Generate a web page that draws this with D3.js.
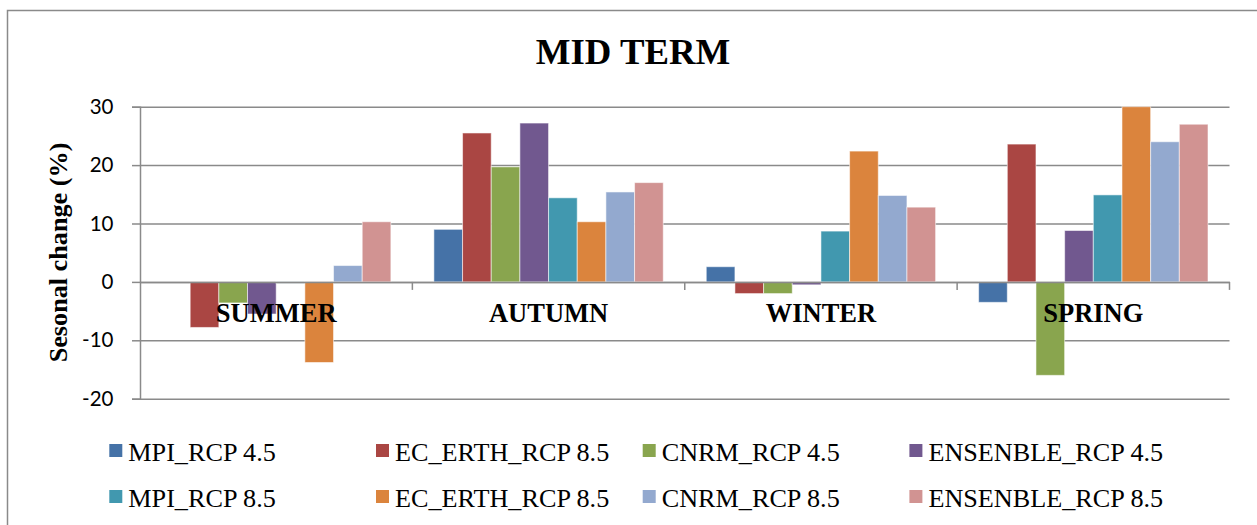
<!DOCTYPE html>
<html>
<head>
<meta charset="utf-8">
<script src="https://cdn.jsdelivr.net/npm/d3@7"></script>
<style>
  html, body { margin: 0; padding: 0; background: #fff; }
  svg { display: block; }
</style>
</head>
<body>
<svg id="chart" width="1257" height="525"></svg>
<script>
// Seasons on the category axis
const seasons = ["SUMMER", "AUTUMN", "WINTER", "SPRING"];

// Model / scenario series
const seriesNames = [
  "MPI_RCP 4.5", "EC_ERTH_RCP 8.5", "CNRM_RCP 4.5", "ENSENBLE_RCP 4.5",
  "MPI_RCP 8.5", "EC_ERTH_RCP 8.5", "CNRM_RCP 8.5", "ENSENBLE_RCP 8.5"
];
const seriesColors = [
  "#4572A7", "#AA4643", "#89A54E", "#71588F",
  "#4198AF", "#DB843D", "#93A9CF", "#D19392"
];

// Seasonal change (%) per series, in season order
const mpi45     = [0.0, 9.0, 2.6, -3.5];
const ecerth45  = [-7.8, 25.5, -2.0, 23.6];
const cnrm45    = [-3.6, 19.7, -2.0, -16.0];
const ens45     = [-5.5, 27.2, -0.5, 8.8];
const mpi85     = [-0.2, 14.4, 8.7, 14.9];
const ecerth85  = [-13.8, 10.3, 22.4, 30.0];
const cnrm85    = [2.8, 15.4, 14.8, 24.0];
const ens85     = [10.3, 17.0, 12.8, 27.0];

const yTicks = [-20, -10, 0, 10, 20, 30];

const seriesValues = [mpi45, ecerth45, cnrm45, ens45, mpi85, ecerth85, cnrm85, ens85];

const svg = d3.select("#chart");
const gridColor = "#8a8a8a";
const serif = "'Liberation Serif', 'Times New Roman', serif";

// Chart frame
svg.append("rect")
  .attr("x", 7.5).attr("y", 10.5)
  .attr("width", 1300).attr("height", 600)
  .attr("fill", "none").attr("stroke", gridColor).attr("stroke-width", 1.5);

const plot = { left: 140, right: 1229.5, top: 106.7, bottom: 398.7 };

const y = d3.scaleLinear().domain([-20, 30]).range([plot.bottom, plot.top]);
const x0 = d3.scaleBand().domain(seasons).range([plot.left, plot.right]).padding(0);
const x1 = d3.scaleBand().domain(d3.range(seriesNames.length))
  .range([0, x0.bandwidth()]).paddingInner(0).paddingOuter(0.75);

// Title
svg.append("text")
  .attr("x", 633).attr("y", 64.3)
  .attr("text-anchor", "middle")
  .attr("font-family", serif)
  .attr("font-weight", "bold").attr("font-size", 36.8)
  .text("MID TERM");

// Horizontal gridlines + value axis
const yAxis = d3.axisLeft(y)
  .tickValues(yTicks)
  .tickSize(8)
  .tickPadding(18.5)
  .tickFormat(d => String(d));

const yg = svg.append("g")
  .attr("transform", `translate(${plot.left},0)`)
  .call(yAxis);
yg.select(".domain").attr("stroke", gridColor).attr("stroke-width", 1.5);
yg.selectAll(".tick line").attr("stroke", gridColor).attr("stroke-width", 1.5);
yg.selectAll(".tick text")
  .attr("font-family", "Lato, 'Open Sans', sans-serif")
  .attr("font-size", 20.5).attr("fill", "#000");
yg.selectAll(".tick").append("line")
  .attr("x1", 0).attr("x2", plot.right - plot.left)
  .attr("stroke", gridColor).attr("stroke-width", 1.5);

// Bars
const groups = svg.append("g").selectAll("g")
  .data(seasons)
  .join("g")
  .attr("transform", d => `translate(${x0(d)},0)`);

groups.selectAll("rect")
  .data((s, i) => seriesValues.map((vals, k) => ({ k, v: vals[i] })))
  .join("rect")
  .attr("x", d => x1(d.k))
  .attr("width", x1.bandwidth())
  .attr("y", d => y(Math.max(0, d.v)))
  .attr("height", d => Math.abs(y(d.v) - y(0)))
  .attr("fill", d => seriesColors[d.k])
  .attr("stroke", "#ffffff").attr("stroke-opacity", 0.55).attr("stroke-width", 1);

// Category axis along zero, with tick marks between seasons
const xAxis = d3.axisBottom(x0).tickSize(0).tickFormat("");
const xg = svg.append("g")
  .attr("transform", `translate(0,${y(0)})`)
  .call(xAxis);
xg.select(".domain").attr("stroke", gridColor).attr("stroke-width", 1.5);
xg.selectAll(".sep")
  .data(seasons)
  .join("line")
  .attr("class", "sep")
  .attr("x1", d => x0(d) + x0.bandwidth()).attr("x2", d => x0(d) + x0.bandwidth())
  .attr("y1", 0).attr("y2", 8)
  .attr("stroke", gridColor).attr("stroke-width", 1.5);

// Season labels
svg.append("g").selectAll("text")
  .data(seasons)
  .join("text")
  .attr("x", d => x0(d) + x0.bandwidth() / 2)
  .attr("y", 321.7)
  .attr("text-anchor", "middle")
  .attr("font-family", serif)
  .attr("font-weight", "bold").attr("font-size", 26.5)
  .text(d => d);

// Value axis title
svg.append("text")
  .attr("transform", `translate(67,252.5) rotate(-90)`)
  .attr("text-anchor", "middle")
  .attr("font-family", serif)
  .attr("font-weight", "bold").attr("font-size", 26.2)
  .text("Sesonal change (%)");

// Legend: two rows of four
const legendX0 = 109.3, legendStep = 266.7;
const legendRowY = [444, 490];
const legend = svg.append("g").selectAll("g")
  .data(seriesNames)
  .join("g")
  .attr("transform", (d, i) => `translate(${legendX0 + (i % 4) * legendStep},${legendRowY[Math.floor(i / 4)]})`);
legend.append("rect")
  .attr("width", 13).attr("height", 13)
  .attr("fill", (d, i) => seriesColors[i]);
legend.append("text")
  .attr("x", 19).attr("y", 16.5)
  .attr("font-family", serif)
  .attr("font-size", 26.2)
  .text(d => d);
</script>
</body>
</html>
